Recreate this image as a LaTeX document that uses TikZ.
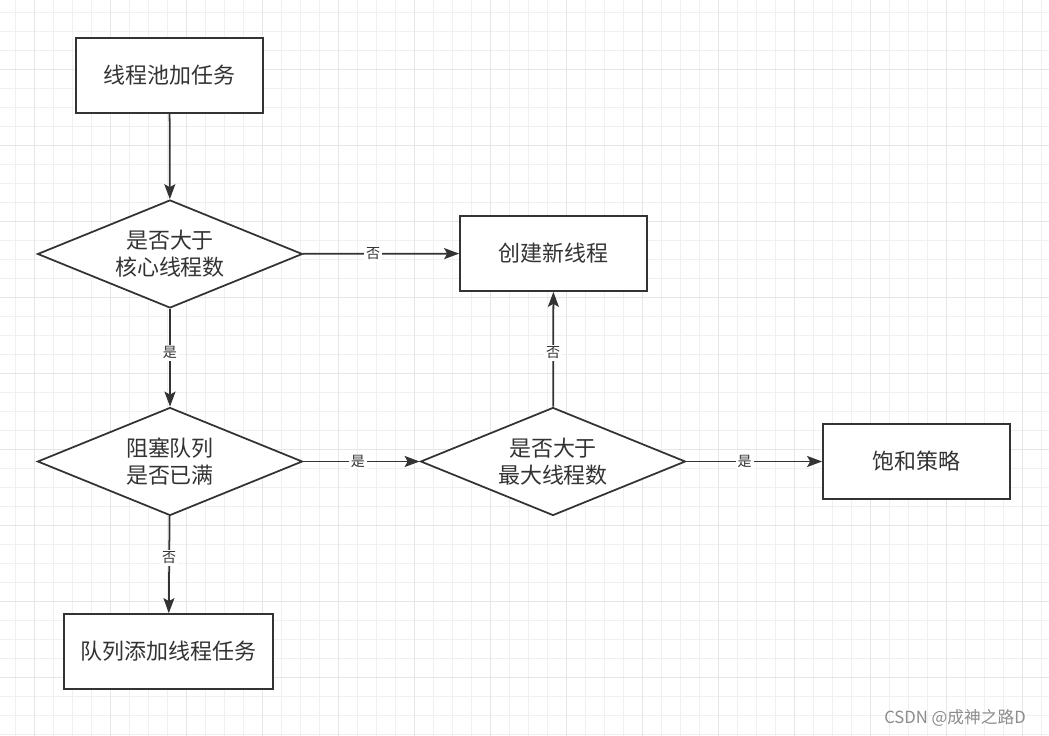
\documentclass[tikz,border=0pt]{standalone}
\usepackage{fontspec}
\setmainfont{Noto Sans CJK SC}
\usetikzlibrary{shapes.geometric,arrows.meta}
\definecolor{linegray}{HTML}{333333}
\definecolor{textgray}{HTML}{333333}
\definecolor{markgray}{HTML}{8C8C8C}
\definecolor{gridminor}{HTML}{F0F0F0}
\definecolor{gridmajor}{HTML}{E6E6E6}
\tikzset{block/.style={draw=linegray,line width=1pt,fill=white,text=textgray,minimum width=3.74cm,minimum height=1.5cm,align=center,font=\fontsize{12.5}{15.3}\selectfont},
         decision/.style={diamond,shape aspect=2.45,draw=linegray,line width=1pt,fill=white,text=textgray,minimum width=5.3cm,minimum height=2.16cm,inner sep=0pt,align=center,font=\fontsize{12.5}{15.3}\selectfont},
         line/.style={-{Stealth[length=3mm,width=2.2mm,inset=0.6mm]},line width=1pt,draw=linegray},
         lbl/.style={fill=white,text=textgray,inner sep=1pt,font=\fontsize{8}{9}\selectfont}
}
\begin{document}
\begin{tikzpicture}[x=0.02cm,y=0.02cm]
  \useasboundingbox (0,0) rectangle (1049,-736);
  \fill[white] (0,0) rectangle (1049,-736);
  % grid
  \foreach \i in {0,...,54} \draw[gridminor,line width=0.55pt] ({15.5+19*\i},0) -- ++(0,-736);
  \foreach \j in {0,...,38} \draw[gridminor,line width=0.55pt] (0,{-12.5-19*\j}) -- ++(1049,0);
  \foreach \i in {0,...,13} \draw[gridmajor,line width=0.6pt] ({34.5+76*\i},0) -- ++(0,-736);
  \foreach \j in {0,...,8} \draw[gridmajor,line width=0.6pt] (0,{-69.5-76*\j}) -- ++(1049,0);

  \node[block] (a) at (169.5,-75.5) {线程池加任务};
  \node[decision] (b) at (170,-254) {是否大于\\核心线程数};
  \node[block] (c) at (553.5,-253.5) {创建新线程};
  \node[decision] (d) at (170,-461.5) {阻塞队列\\是否已满};
  \node[decision] (e) at (553,-461.5) {是否大于\\最大线程数};
  \node[block] (f) at (916.5,-461.5) {饱和策略};
  \node[block, minimum width=4.18cm] (g) at (168.5,-651.5) {队列添加线程任务};
  \node[text=markgray,font=\fontsize{9.5}{11}\selectfont] (w) at (955,-718) {CSDN @成神之路D};

  \draw[line] (a) -- (b);
  \draw[line] (b) -- node[lbl,pos=0.45] {否} (c);
  \draw[line] (b) -- node[lbl,pos=0.45] {是} (d);
  \draw[line] (d) -- node[lbl,pos=0.47] {是} (e);
  \draw[line] (e) -- node[lbl,pos=0.47] {否} (c);
  \draw[line] (e) -- node[lbl,pos=0.43] {是} (f);
  \draw[line] (d) -- node[lbl,pos=0.43] {否} (g);
\end{tikzpicture}
\end{document}
